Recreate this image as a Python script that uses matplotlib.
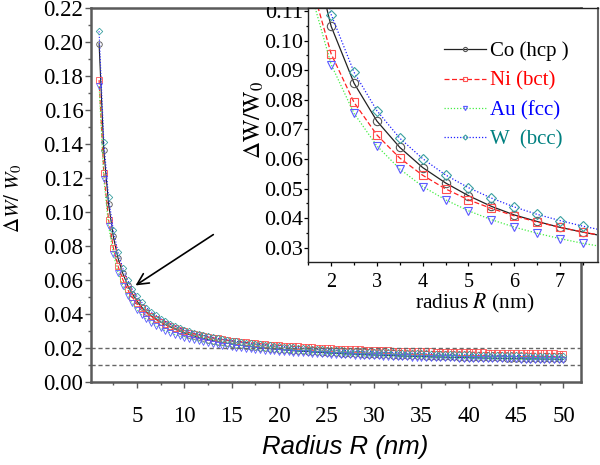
import matplotlib
matplotlib.use('Agg')
import matplotlib.pyplot as plt
import numpy as np
from matplotlib.ticker import MultipleLocator
from matplotlib.patches import Rectangle

plt.rcParams['font.family'] = 'Liberation Serif'
plt.rcParams['mathtext.fontset'] = 'stix'

# radius grid (nm), step 0.5
radius = np.arange(1.0, 50.5, 0.5)

# dW/W0
co_hcp = [0.1990, 0.1362, 0.1048, 0.0856, 0.0728, 0.0639, 0.0571, 0.0519, 0.0476, 0.0440,
          0.0411, 0.0389, 0.0369, 0.0353, 0.0338, 0.0324, 0.0311, 0.0299, 0.0289, 0.0279,
          0.0271, 0.0263, 0.0256, 0.0249, 0.0243, 0.0238, 0.0233, 0.0228, 0.0224, 0.0219,
          0.0215, 0.0212, 0.0208, 0.0205, 0.0202, 0.0199, 0.0196, 0.0194, 0.0191, 0.0189,
          0.0187, 0.0184, 0.0182, 0.0180, 0.0179, 0.0177, 0.0175, 0.0173, 0.0172, 0.0170,
          0.0169, 0.0167, 0.0166, 0.0165, 0.0164, 0.0162, 0.0161, 0.0160, 0.0159, 0.0158,
          0.0157, 0.0156, 0.0155, 0.0154, 0.0153, 0.0152, 0.0151, 0.0150, 0.0150, 0.0149,
          0.0148, 0.0147, 0.0147, 0.0146, 0.0145, 0.0145, 0.0144, 0.0143, 0.0143, 0.0142,
          0.0142, 0.0141, 0.0140, 0.0140, 0.0139, 0.0139, 0.0138, 0.0138, 0.0137, 0.0137,
          0.0136, 0.0136, 0.0136, 0.0135, 0.0135, 0.0134, 0.0134, 0.0133, 0.0133]

ni_bct = [0.1776, 0.1229, 0.0955, 0.0791, 0.0681, 0.0603, 0.0545, 0.0499, 0.0462, 0.0433,
          0.0408, 0.0387, 0.0369, 0.0353, 0.0339, 0.0327, 0.0316, 0.0307, 0.0298, 0.0290,
          0.0283, 0.0277, 0.0271, 0.0265, 0.0260, 0.0256, 0.0251, 0.0247, 0.0243, 0.0240,
          0.0237, 0.0233, 0.0231, 0.0228, 0.0225, 0.0223, 0.0220, 0.0218, 0.0216, 0.0214,
          0.0212, 0.0210, 0.0209, 0.0207, 0.0205, 0.0204, 0.0202, 0.0201, 0.0200, 0.0198,
          0.0197, 0.0196, 0.0195, 0.0194, 0.0193, 0.0192, 0.0191, 0.0190, 0.0189, 0.0188,
          0.0187, 0.0186, 0.0185, 0.0185, 0.0184, 0.0183, 0.0182, 0.0182, 0.0181, 0.0180,
          0.0180, 0.0179, 0.0178, 0.0178, 0.0177, 0.0177, 0.0176, 0.0176, 0.0175, 0.0175,
          0.0174, 0.0174, 0.0173, 0.0173, 0.0172, 0.0172, 0.0171, 0.0171, 0.0170, 0.0170,
          0.0170, 0.0169, 0.0169, 0.0169, 0.0168, 0.0168, 0.0168, 0.0167, 0.0167]

au_fcc = [0.1741, 0.1193, 0.0919, 0.0754, 0.0644, 0.0566, 0.0507, 0.0462, 0.0425, 0.0395,
          0.0370, 0.0349, 0.0331, 0.0315, 0.0302, 0.0290, 0.0279, 0.0269, 0.0261, 0.0253,
          0.0246, 0.0239, 0.0233, 0.0228, 0.0223, 0.0218, 0.0214, 0.0209, 0.0206, 0.0202,
          0.0199, 0.0196, 0.0193, 0.0190, 0.0187, 0.0185, 0.0183, 0.0180, 0.0178, 0.0176,
          0.0174, 0.0173, 0.0171, 0.0169, 0.0168, 0.0166, 0.0165, 0.0163, 0.0162, 0.0161,
          0.0159, 0.0158, 0.0157, 0.0156, 0.0155, 0.0154, 0.0153, 0.0152, 0.0151, 0.0150,
          0.0149, 0.0148, 0.0147, 0.0147, 0.0146, 0.0145, 0.0144, 0.0144, 0.0143, 0.0142,
          0.0142, 0.0141, 0.0140, 0.0140, 0.0139, 0.0139, 0.0138, 0.0138, 0.0137, 0.0137,
          0.0136, 0.0136, 0.0135, 0.0135, 0.0134, 0.0134, 0.0133, 0.0133, 0.0133, 0.0132,
          0.0132, 0.0131, 0.0131, 0.0131, 0.0130, 0.0130, 0.0130, 0.0129, 0.0129]

w_bcc = [0.2063, 0.1413, 0.1088, 0.0893, 0.0763, 0.0670, 0.0601, 0.0546, 0.0503, 0.0468,
         0.0438, 0.0413, 0.0392, 0.0373, 0.0357, 0.0342, 0.0330, 0.0318, 0.0308, 0.0299,
         0.0290, 0.0283, 0.0276, 0.0269, 0.0263, 0.0257, 0.0252, 0.0248, 0.0243, 0.0239,
         0.0235, 0.0231, 0.0228, 0.0224, 0.0221, 0.0218, 0.0216, 0.0213, 0.0211, 0.0208,
         0.0206, 0.0204, 0.0202, 0.0200, 0.0198, 0.0196, 0.0194, 0.0193, 0.0191, 0.0190,
         0.0188, 0.0187, 0.0185, 0.0184, 0.0183, 0.0181, 0.0180, 0.0179, 0.0178, 0.0177,
         0.0176, 0.0175, 0.0174, 0.0173, 0.0172, 0.0171, 0.0170, 0.0170, 0.0169, 0.0168,
         0.0167, 0.0166, 0.0166, 0.0165, 0.0164, 0.0164, 0.0163, 0.0162, 0.0162, 0.0161,
         0.0161, 0.0160, 0.0159, 0.0159, 0.0158, 0.0158, 0.0157, 0.0157, 0.0156, 0.0156,
         0.0155, 0.0155, 0.0154, 0.0154, 0.0154, 0.0153, 0.0153, 0.0152, 0.0152]

labels = ['Co (hcp )', 'Ni (bct)', 'Au (fcc)', 'W  (bcc)']
series = [co_hcp, ni_bct, au_fcc, w_bcc]

# line colour, line style, marker, marker edge, legend text colour
styles = [
    ('#222222', '-', 'o', '#555555', 'black'),
    ('#ff2020', (0, (4, 2)), 's', '#ff5050', 'red'),
    ('#44ee44', (0, (1, 1.5)), 'v', '#5a5aff', 'blue'),
    ('#2020ff', (0, (1, 1.5)), 'D', '#3aa0a0', '#008080'),
]

fig = plt.figure(figsize=(6, 4.65), dpi=100)

# main axes
ax = fig.add_axes([0.1517, 0.1785, 0.8166, 0.8043])
for vals, (lc, ls, mk, mec, _) in zip(series, styles):
    ms = 3.3 if mk == 'D' else 4
    ax.plot(radius, vals, color=lc, ls=ls, lw=0.8, marker=mk, ms=ms,
            mfc='none', mec=mec, mew=0.6)

ax.axhline(0.02, color='#666666', ls=(0, (3, 2)), lw=1)
ax.axhline(0.01, color='#666666', ls=(0, (3, 2)), lw=1)

ax.annotate('', xy=(4.6, 0.0559), xytext=(13.3, 0.0876),
            arrowprops=dict(arrowstyle='->', color='black', lw=1.2, mutation_scale=20))

ax.set_xlim(0.15, 51.85)
ax.set_ylim(0, 0.22)
ax.xaxis.set_major_locator(MultipleLocator(5))
ax.xaxis.set_minor_locator(MultipleLocator(2.5))
ax.yaxis.set_major_locator(MultipleLocator(0.02))
ax.yaxis.set_minor_locator(MultipleLocator(0.01))
ax.set_xticks(np.arange(5, 51, 5))
ax.yaxis.set_major_formatter(plt.FormatStrFormatter('%.2f'))
for s in ax.spines.values():
    s.set_color('#5a5a5a')
    s.set_linewidth(1.8)
ax.tick_params(which='major', direction='out', length=4, width=1, color='#5a5a5a',
               labelsize=16.5)
ax.tick_params(which='minor', direction='out', length=2.5, width=1, color='#5a5a5a')
ax.tick_params(axis='y', which='major', pad=1.5)
ax.tick_params(axis='x', which='major', pad=13)

ax.set_ylabel(r'$\Delta W/\ W_{\mathit{0}}$', fontsize=15)
ax.yaxis.set_label_coords(-0.137, 0.492)
ax.set_xlabel('Radius R (nm)', fontfamily='Liberation Sans', style='italic', fontsize=18.5)
ax.xaxis.set_label_coords(0.518, -0.143)

# inset
axin = fig.add_axes([0.5138, 0.4372, 0.4828, 0.5456])
axin.set_facecolor('white')
handles = []
for vals, (lc, ls, mk, mec, _) in zip(series, styles):
    ms = 5 if mk == 'D' else 6
    h, = axin.plot(radius, vals, color=lc, ls=ls, lw=0.9, marker=mk, ms=ms,
                   mfc='none', mec=mec, mew=0.8)
    handles.append(h)

axin.set_xlim(1.5, 7.83)
axin.set_ylim(0.0253, 0.111)
axin.xaxis.set_major_locator(MultipleLocator(1))
axin.xaxis.set_minor_locator(MultipleLocator(0.5))
axin.yaxis.set_major_locator(MultipleLocator(0.01))
axin.yaxis.set_minor_locator(MultipleLocator(0.005))
axin.yaxis.set_major_formatter(plt.FormatStrFormatter('%.2f'))
for s in axin.spines.values():
    s.set_color('#222222')
    s.set_linewidth(1.0)
axin.spines['right'].set_color('#666666')
axin.spines['right'].set_linewidth(1.5)
axin.tick_params(which='major', direction='out', length=3, width=0.9, labelsize=16)
axin.tick_params(which='minor', direction='out', length=1.8, width=0.9)
axin.tick_params(axis='y', which='major', pad=0.5)
axin.tick_params(axis='x', which='major', pad=5, labelsize=14.5)

axin.set_ylabel(r'$\Delta\mathrm{W/W}_0$', fontsize=17)
axin.yaxis.set_label_coords(-0.147, 0.559)
axin.set_xlabel(r'radius $R$ (nm)', fontsize=15.5)
axin.xaxis.set_label_coords(0.576, -0.12)

leg = axin.legend(handles, labels, loc='upper left', bbox_to_anchor=(0.44, 0.90),
                  frameon=False, fontsize=15, handlelength=2.0, handletextpad=0.2,
                  labelspacing=0.47, markerscale=0.5, borderaxespad=0)
for txt, st in zip(leg.get_texts(), styles):
    txt.set_color(st[4])

# the inset runs up under the frame top; hide what sticks out above it
top = 0.9828
fig.add_artist(Rectangle((0.4, top + 0.003), 0.6, 1 - top, transform=fig.transFigure,
                         facecolor='white', edgecolor='none', zorder=10))

fig.savefig('out.png', dpi=100)
